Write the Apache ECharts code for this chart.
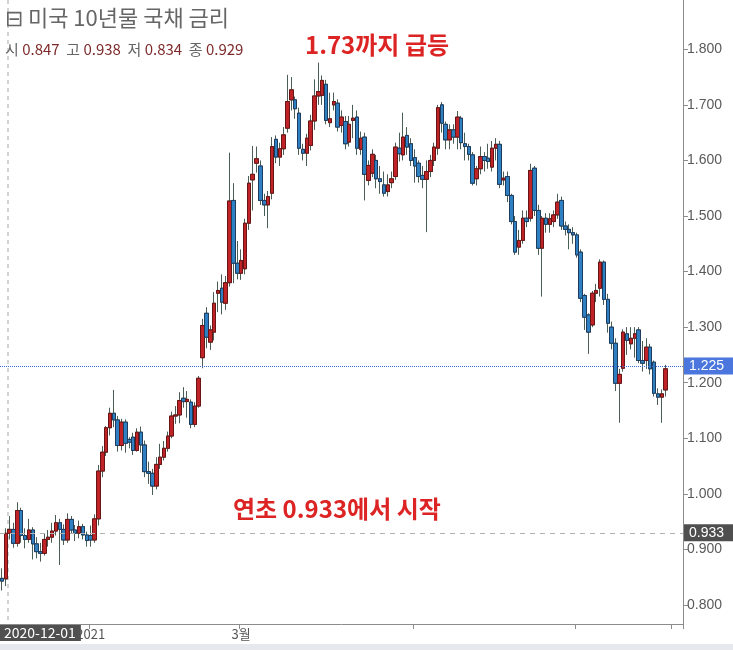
<!DOCTYPE html>
<html><head><meta charset="utf-8">
<script src="https://cdn.jsdelivr.net/npm/echarts@6/dist/echarts.min.js"></script>
<style>html,body{margin:0;padding:0;background:#fff}#c{width:733px;height:650px}</style>
</head><body><div id="c"></div>
<script>
// trading days
const dates = [
'2020-11-30','2020-12-01','2020-12-02','2020-12-03','2020-12-04','2020-12-07','2020-12-08','2020-12-09','2020-12-10','2020-12-11',
'2020-12-14','2020-12-15','2020-12-16','2020-12-17','2020-12-18','2020-12-21','2020-12-22','2020-12-23','2020-12-24','2020-12-28',
'2020-12-29','2020-12-30','2020-12-31','2021-01-04','2021-01-05','2021-01-06','2021-01-07','2021-01-08','2021-01-11','2021-01-12',
'2021-01-13','2021-01-14','2021-01-15','2021-01-19','2021-01-20','2021-01-21','2021-01-22','2021-01-25','2021-01-26','2021-01-27',
'2021-01-28','2021-01-29','2021-02-01','2021-02-02','2021-02-03','2021-02-04','2021-02-05','2021-02-08','2021-02-09','2021-02-10',
'2021-02-11','2021-02-12','2021-02-16','2021-02-17','2021-02-18','2021-02-19','2021-02-22','2021-02-23','2021-02-24','2021-02-25',
'2021-02-26','2021-03-01','2021-03-02','2021-03-03','2021-03-04','2021-03-05','2021-03-08','2021-03-09','2021-03-10','2021-03-11',
'2021-03-12','2021-03-15','2021-03-16','2021-03-17','2021-03-18','2021-03-19','2021-03-22','2021-03-23','2021-03-24','2021-03-25',
'2021-03-26','2021-03-29','2021-03-30','2021-03-31','2021-04-01','2021-04-02','2021-04-05','2021-04-06','2021-04-07','2021-04-08',
'2021-04-09','2021-04-12','2021-04-13','2021-04-14','2021-04-15','2021-04-16','2021-04-19','2021-04-20','2021-04-21','2021-04-22',
'2021-04-23','2021-04-26','2021-04-27','2021-04-28','2021-04-29','2021-04-30','2021-05-03','2021-05-04','2021-05-05','2021-05-06',
'2021-05-07','2021-05-10','2021-05-11','2021-05-12','2021-05-13','2021-05-14','2021-05-17','2021-05-18','2021-05-19','2021-05-20',
'2021-05-21','2021-05-24','2021-05-25','2021-05-26','2021-05-27','2021-05-28','2021-06-01','2021-06-02','2021-06-03','2021-06-04',
'2021-06-07','2021-06-08','2021-06-09','2021-06-10','2021-06-11','2021-06-14','2021-06-15','2021-06-16','2021-06-17','2021-06-18',
'2021-06-21','2021-06-22','2021-06-23','2021-06-24','2021-06-25','2021-06-28','2021-06-29','2021-06-30','2021-07-01','2021-07-02',
'2021-07-06','2021-07-07','2021-07-08','2021-07-09','2021-07-12','2021-07-13','2021-07-14','2021-07-15','2021-07-16','2021-07-19',
'2021-07-20','2021-07-21','2021-07-22','2021-07-23','2021-07-26','2021-07-27','2021-07-28','2021-07-29','2021-07-30','2021-08-02',
'2021-08-03','2021-08-04','2021-08-05'
];
const padDates = ['2021-08-06','2021-08-09','2021-08-10','2021-08-11'];

// [open, close, low, high]
const candles = [
[0.848,0.843,0.826,0.866],[0.847,0.929,0.834,0.938],[0.929,0.936,0.918,0.960],[0.936,0.911,0.903,0.948],[0.911,0.970,0.905,0.985],
[0.970,0.925,0.912,0.975],[0.925,0.918,0.902,0.938],[0.918,0.935,0.912,0.955],[0.935,0.910,0.882,0.940],[0.910,0.896,0.884,0.922],
[0.896,0.893,0.878,0.912],[0.893,0.918,0.889,0.928],[0.918,0.922,0.905,0.935],[0.922,0.933,0.912,0.948],[0.933,0.948,0.925,0.962],
[0.948,0.936,0.872,0.955],[0.936,0.917,0.908,0.945],[0.917,0.954,0.912,0.965],[0.954,0.935,0.929,0.960],[0.935,0.929,0.915,0.944],
[0.929,0.941,0.920,0.952],[0.941,0.926,0.918,0.946],[0.926,0.916,0.905,0.932],[0.925,0.917,0.905,0.943],[0.917,0.955,0.912,0.963],
[0.955,1.041,0.943,1.052],[1.041,1.075,1.030,1.086],[1.075,1.119,1.068,1.122],[1.119,1.145,1.105,1.155],[1.145,1.133,1.120,1.187],
[1.133,1.087,1.076,1.140],[1.087,1.129,1.078,1.135],[1.129,1.091,1.074,1.134],[1.098,1.093,1.082,1.102],[1.102,1.078,1.070,1.110],
[1.078,1.111,1.076,1.118],[1.111,1.088,1.074,1.121],[1.088,1.040,1.030,1.096],[1.040,1.037,1.018,1.058],[1.037,1.014,0.998,1.045],
[1.014,1.053,1.008,1.066],[1.053,1.066,1.045,1.090],[1.066,1.082,1.060,1.095],[1.082,1.104,1.076,1.112],[1.104,1.140,1.100,1.148],
[1.140,1.142,1.126,1.158],[1.142,1.168,1.127,1.183],[1.172,1.166,1.155,1.192],[1.166,1.170,1.137,1.185],[1.165,1.125,1.118,1.170],
[1.125,1.158,1.120,1.165],[1.158,1.208,1.155,1.212],[1.245,1.303,1.226,1.315],[1.325,1.282,1.262,1.336],[1.273,1.295,1.259,1.303],
[1.291,1.343,1.276,1.363],[1.361,1.366,1.327,1.382],[1.370,1.345,1.323,1.395],[1.343,1.380,1.331,1.392],[1.380,1.527,1.373,1.614],
[1.528,1.415,1.379,1.559],[1.415,1.397,1.386,1.455],[1.397,1.420,1.385,1.440],[1.405,1.487,1.395,1.495],[1.487,1.559,1.475,1.572],
[1.565,1.575,1.510,1.626],[1.595,1.603,1.578,1.625],[1.590,1.528,1.520,1.600],[1.528,1.520,1.500,1.540],[1.520,1.535,1.478,1.545],
[1.541,1.625,1.530,1.642],[1.638,1.606,1.595,1.645],[1.606,1.621,1.590,1.632],[1.621,1.646,1.610,1.660],[1.658,1.706,1.650,1.754],
[1.709,1.727,1.690,1.750],[1.709,1.693,1.675,1.715],[1.685,1.622,1.610,1.695],[1.620,1.613,1.600,1.630],[1.613,1.640,1.590,1.648],
[1.627,1.671,1.618,1.682],[1.671,1.716,1.655,1.746],[1.716,1.724,1.700,1.776],[1.717,1.744,1.700,1.753],[1.737,1.672,1.665,1.745],
[1.668,1.675,1.660,1.722],[1.700,1.706,1.690,1.722],[1.703,1.660,1.652,1.710],[1.663,1.678,1.650,1.690],[1.670,1.630,1.620,1.680],
[1.633,1.665,1.625,1.680],[1.672,1.676,1.640,1.700],[1.678,1.622,1.610,1.690],[1.620,1.640,1.610,1.652],[1.642,1.575,1.528,1.650],
[1.564,1.591,1.555,1.600],[1.577,1.611,1.570,1.620],[1.600,1.567,1.550,1.610],[1.567,1.562,1.540,1.590],[1.556,1.541,1.535,1.580],
[1.544,1.556,1.535,1.575],[1.560,1.567,1.550,1.580],[1.571,1.624,1.565,1.632],[1.622,1.612,1.598,1.650],[1.610,1.642,1.600,1.686],
[1.645,1.624,1.610,1.660],[1.630,1.600,1.590,1.640],[1.605,1.590,1.560,1.620],[1.595,1.571,1.560,1.600],[1.573,1.566,1.550,1.590],
[1.566,1.580,1.471,1.600],[1.580,1.600,1.570,1.610],[1.600,1.624,1.590,1.632],[1.622,1.695,1.610,1.700],[1.700,1.667,1.650,1.705],
[1.665,1.637,1.620,1.670],[1.637,1.655,1.620,1.665],[1.655,1.642,1.630,1.665],[1.642,1.678,1.620,1.689],[1.676,1.632,1.620,1.680],
[1.630,1.625,1.600,1.650],[1.625,1.611,1.600,1.630],[1.610,1.559,1.555,1.615],[1.567,1.585,1.555,1.590],[1.585,1.607,1.575,1.625],
[1.607,1.600,1.580,1.615],[1.604,1.598,1.585,1.630],[1.588,1.622,1.580,1.635],[1.622,1.629,1.600,1.640],[1.629,1.557,1.550,1.635],
[1.565,1.568,1.555,1.580],[1.571,1.537,1.525,1.580],[1.537,1.490,1.485,1.540],[1.490,1.435,1.430,1.500],[1.444,1.456,1.430,1.475],
[1.456,1.496,1.450,1.510],[1.496,1.490,1.480,1.510],[1.496,1.582,1.490,1.594],[1.586,1.510,1.500,1.590],[1.510,1.442,1.430,1.520],
[1.442,1.496,1.355,1.500],[1.496,1.485,1.470,1.505],[1.485,1.495,1.470,1.505],[1.490,1.502,1.480,1.510],[1.502,1.525,1.495,1.540],
[1.528,1.482,1.475,1.535],[1.482,1.476,1.465,1.490],[1.476,1.470,1.440,1.485],[1.470,1.466,1.450,1.480],[1.466,1.430,1.425,1.470],
[1.435,1.352,1.345,1.440],[1.357,1.318,1.295,1.360],[1.322,1.291,1.252,1.325],[1.304,1.361,1.300,1.365],[1.361,1.366,1.345,1.378],
[1.370,1.417,1.355,1.422],[1.417,1.350,1.340,1.420],[1.350,1.307,1.290,1.360],[1.300,1.271,1.260,1.310],[1.271,1.199,1.185,1.280],
[1.199,1.215,1.128,1.225],[1.226,1.291,1.220,1.296],[1.288,1.276,1.250,1.300],[1.270,1.280,1.260,1.300],[1.280,1.288,1.245,1.300],
[1.295,1.240,1.235,1.300],[1.240,1.235,1.220,1.275],[1.240,1.264,1.225,1.280],[1.264,1.225,1.215,1.270],[1.237,1.181,1.175,1.240],
[1.180,1.174,1.160,1.190],[1.174,1.180,1.128,1.188],[1.187,1.225,1.175,1.232]
];

const yTicks = [0.8, 0.9, 1.0, 1.1, 1.2, 1.3, 1.4, 1.5, 1.6, 1.7, 1.8];
const xTickIdx = [23, 62, 107, 149, 174];
const xLabels = {23: '2021', 62: '3월'};
const lastClose = 1.225;
const startLevel = 0.933;
const hoverDate = '2020-12-01';
const hoverOHLC = {o: '0.847', h: '0.938', l: '0.834', c: '0.929'};
const titleText = '⊟ 미국 10년물 국채 금리';
const note1 = '1.73까지 급등';
const note2 = '연초 0.933에서 시작';

const allDates = dates.concat(padDates);
const pad = padDates.map(() => '-');
const wickData = candles.map(d => [d[0], d[1], d[2], d[3]]).concat(pad);
const bodyData = candles.map(d => [d[0], d[1], Math.min(d[0], d[1]), Math.max(d[0], d[1])]).concat(pad);

const chart = echarts.init(document.getElementById('c'), null, {renderer: 'canvas'});
const axisGray = '#8c8c8c';
const labelFont = 'Liberation Sans, Arial, sans-serif';
const kr = '"Noto Sans CJK KR", "Noto Sans", sans-serif';

chart.setOption({
  animation: false,
  backgroundColor: '#ffffff',
  grid: {left: -1, right: 50, top: 0, bottom: 26},
  xAxis: {
    type: 'category', data: allDates, boundaryGap: true,
    axisLine: {show: true, lineStyle: {color: axisGray}},
    axisTick: {show: true, length: 5, interval: (i) => xTickIdx.includes(i), lineStyle: {color: axisGray}},
    axisLabel: {show: true, interval: (i) => (i in xLabels), formatter: (v, i) => xLabels[i] || '',
      color: '#555', fontSize: 13, fontFamily: kr, margin: 4},
    splitLine: {show: false}
  },
  yAxis: {
    type: 'value', position: 'right', min: 0.7658, max: 1.8887, scale: true,
    axisLine: {show: true, lineStyle: {color: axisGray}},
    axisTick: {show: true, length: 5, customValues: yTicks, lineStyle: {color: axisGray}},
    axisLabel: {show: true, customValues: yTicks, formatter: v => v.toFixed(3), color: '#5a5a5a', fontSize: 14, fontFamily: labelFont, margin: 4},
    splitLine: {show: false}
  },
  series: [
    {
      type: 'candlestick', name: 'wick', data: wickData, barWidth: 4,
      itemStyle: {color: '#4b5e56', color0: '#4b5e56', borderColor: '#4b5e56', borderColor0: '#4b5e56', borderColorDoji: '#4b5e56', borderWidth: 1},
      z: 2
    },
    {
      type: 'candlestick', name: 'body', data: bodyData, barWidth: 4,
      itemStyle: {color: '#bf2327', color0: '#2f80c3', borderColor: '#6a1414', borderColor0: '#1d3c5e', borderColorDoji: '#6a1414', borderWidth: 1},
      z: 3,
      markLine: {
        silent: true, symbol: ['none', 'none'], animation: false,
        data: [
          {yAxis: lastClose, lineStyle: {color: '#3f6fd6', type: 'dotted', width: 1},
           label: {show: true, position: 'end', distance: 1, formatter: () => lastClose.toFixed(3),
             backgroundColor: '#4a76de', color: '#fff', fontSize: 14, fontFamily: labelFont, padding: [2, 3, 1, 5], width: 41}},
          {yAxis: startLevel, lineStyle: {color: '#b0b0b0', type: [5, 5], width: 1},
           label: {show: true, position: 'end', distance: 1, formatter: () => startLevel.toFixed(3),
             backgroundColor: '#4f4f4f', color: '#fff', fontSize: 14, fontFamily: labelFont, padding: [2, 3, 1, 5], width: 41}}
        ]
      }
    }
  ],
  graphic: [
    {type: 'rect', left: 0, top: 644, shape: {width: 733, height: 6}, style: {fill: '#e7e7ee'}, z: 1},
    {type: 'line', shape: {x1: 8, y1: 0, x2: 8, y2: 624}, style: {stroke: '#a8a8a8', lineWidth: 1, lineDash: [4, 4]}, z: 1},
    {type: 'text', left: 5, top: 7, z: 10,
     style: {text: titleText, fill: '#666', font: '22px ' + kr}},
    {type: 'text', left: 5, top: 42, z: 10,
     style: {text: '{k|시} {v|' + hoverOHLC.o + '}  {k|고} {v|' + hoverOHLC.h + '}  {k|저} {v|' + hoverOHLC.l + '}  {k|종} {v|' + hoverOHLC.c + '}',
       rich: {k: {fill: '#666', font: '15px ' + kr}, v: {fill: '#7e2a2a', font: '15px ' + kr}}}},
    {type: 'text', left: 305, top: 33, z: 10,
     style: {text: note1, fill: '#dd2424', font: 'bold 24px ' + kr}},
    {type: 'text', left: 233, top: 497, z: 10,
     style: {text: note2, fill: '#dd2424', font: 'bold 24px ' + kr}},
    {type: 'text', left: 0, top: 625, z: 20,
     style: {text: hoverDate, fill: '#fff', font: '14px ' + kr, backgroundColor: '#505050', padding: [1, 5, 1, 4]}}
  ]
});
</script></body></html>
